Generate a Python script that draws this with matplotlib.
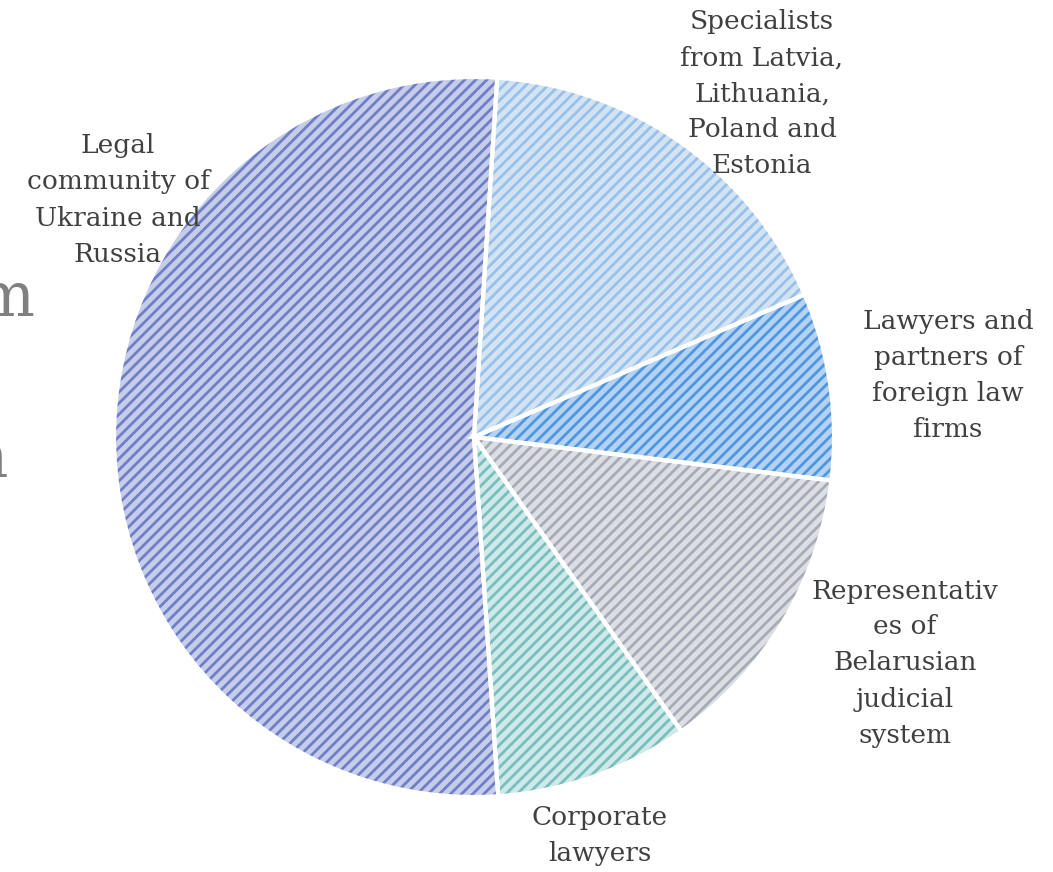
import matplotlib
matplotlib.use('Agg')

import matplotlib.pyplot as plt

# slices in clockwise order, starting just right of 12 o'clock
labels = ['Specialists\nfrom Latvia,\nLithuania,\nPoland and\nEstonia',
          'Lawyers and\npartners of\nforeign law\nfirms',
          'Representativ\nes of\nBelarusian\njudicial\nsystem',
          'Corporate\nlawyers',
          'Legal\ncommunity of\nUkraine and\nRussia']
shares = [17.5, 8.4, 13.3, 8.7, 52.1]

face_cols = ['#d2e3f4', '#b4d3f3', '#dcdee4', '#cfe8e8', '#c6cdeb']
stripe_cols = ['#98c0e8', '#4f96e2', '#a6abb8', '#78bebe', '#6f7fc6']

# label centres in pixels (top-left origin)
label_pos = [(762, 94), (948, 376), (905, 663), (600, 835), (118, 200)]

W, H = 1053, 872
plt.rcParams['hatch.linewidth'] = 2.0

fig = plt.figure(figsize=(W / 100, H / 100), dpi=100)
ax = fig.add_axes([0, 0, 1, 1])

centre = (474, H - 437)
radius = 360

# stray text from the page behind the chart
ax.text(35, H - 316, 'm', fontsize=44, color='#808080', ha='right',
        va='baseline', family='DejaVu Serif')
ax.text(8.5, H - 477, 'n', fontsize=44, color='#808080', ha='right',
        va='baseline', family='DejaVu Serif')

wedges, _ = ax.pie(shares, center=centre, radius=radius, startangle=86.3,
                   counterclock=False, colors=face_cols, frame=True,
                   wedgeprops=dict(linewidth=0, hatch='///'))
for w, c in zip(wedges, stripe_cols):
    w.set_edgecolor(c)
    w.set_linewidth(0)

# white separators
ax.pie(shares, center=centre, radius=radius, startangle=86.3,
       counterclock=False, frame=True,
       wedgeprops=dict(fill=False, edgecolor='white', linewidth=3))

ax.set_xlim(0, W)
ax.set_ylim(0, H)
ax.set_aspect('equal')
ax.axis('off')

for txt, (x, y) in zip(labels, label_pos):
    ax.text(x, H - y, txt, ha='center', va='center', fontsize=19,
            color='#404040', family='DejaVu Serif', linespacing=1.55)

fig.savefig('out.png', dpi=100)
